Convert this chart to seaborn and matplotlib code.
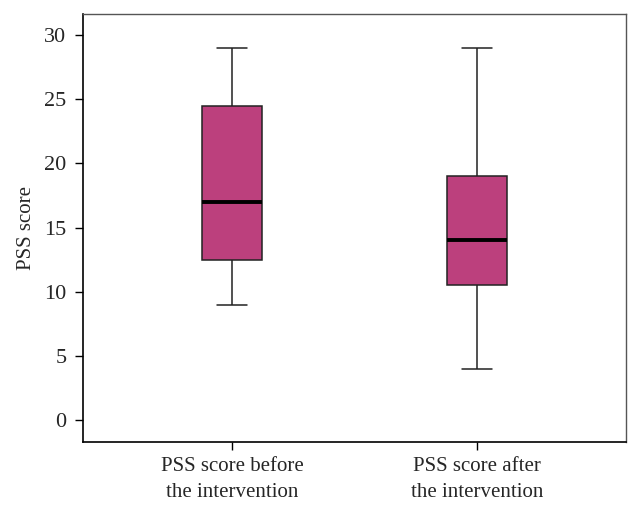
import matplotlib
matplotlib.use("Agg")
import matplotlib.pyplot as plt
import seaborn as sns
import pandas as pd

# Five-number summaries (min, Q1, median, Q3, max)
categories = ["PSS score before\nthe intervention", "PSS score after\nthe intervention"]
before_values = [9, 12.5, 17, 24.5, 29]
after_values = [4, 10.5, 14, 19, 29]
y_ticks = [0, 5, 10, 15, 20, 25, 30]

df = pd.DataFrame({
    "group": [categories[0]] * len(before_values) + [categories[1]] * len(after_values),
    "score": before_values + after_values,
})

sns.set_theme(style="white")
plt.rcParams["font.family"] = ["Liberation Serif", "DejaVu Serif"]

fig = plt.figure(figsize=(6.4, 5.12), dpi=100)
ax = fig.add_axes([83 / 640, 1 - 442 / 512, (626 - 83) / 640, (442 - 14) / 512])

sns.boxplot(
    data=df, x="group", y="score", order=categories, ax=ax,
    color="#BC407D", saturation=1, width=0.245, whis=1.5,
    linewidth=1.1, linecolor="#222222",
    medianprops=dict(color="black", linewidth=2.8),
    whiskerprops=dict(color="#222222", linewidth=1.1),
    capprops=dict(color="#222222", linewidth=1.1),
    boxprops=dict(edgecolor="#222222", linewidth=1.1),
    fliersize=0,
)

ax.set_xlim(-0.608, 1.608)
ax.set_ylim(-1.71, 31.64)
ax.set_yticks(y_ticks)
ax.set_yticklabels([str(t) for t in y_ticks], fontsize=16)
ax.set_xticks([0, 1])
ax.set_xticklabels(categories, fontsize=15, linespacing=1.45)
ax.set_xlabel("")
ax.set_ylabel("PSS score", fontsize=15, labelpad=6)

for side in ["left", "bottom"]:
    ax.spines[side].set_color("black")
    ax.spines[side].set_linewidth(1.2)
for side in ["top", "right"]:
    ax.spines[side].set_color("#555555")
    ax.spines[side].set_linewidth(1.0)

ax.tick_params(axis="both", which="both", direction="out", length=6, width=1,
               color="black", left=True, bottom=True)
ax.tick_params(axis="y", pad=6)
ax.tick_params(axis="x", pad=5)

fig.savefig("out.png", dpi=100)
